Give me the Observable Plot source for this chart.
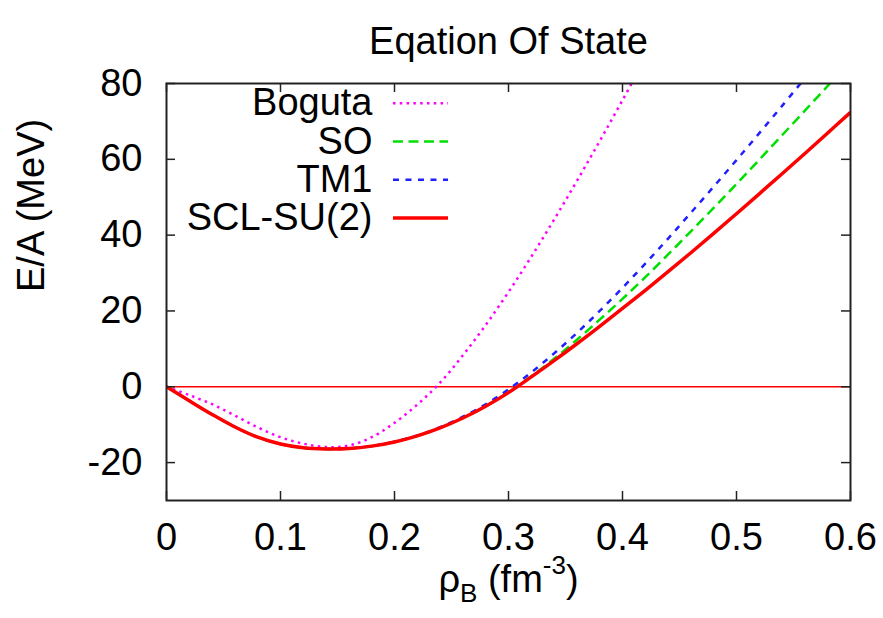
<!DOCTYPE html>
<html>
<head>
<meta charset="utf-8">
<script src="https://cdn.jsdelivr.net/npm/d3@7"></script>
<script src="https://cdn.jsdelivr.net/npm/@observablehq/plot@0.6"></script>
<style>
  html, body { margin: 0; padding: 0; background: #fff; }
</style>
</head>
<body>
<div id="chart"></div>
<script>
const title = "Eqation Of State";
const xLabel = "ρB (fm-3)";
const yLabel = "E/A (MeV)";
const seriesNames = ["Boguta", "SO", "TM1", "SCL-SU(2)"];
const seriesColors = ["#ff00ff", "#00e000", "#2020ff", "#ff0000"];
const xTicks = [0, 0.1, 0.2, 0.3, 0.4, 0.5, 0.6];
const xTickLabels = ["0", "0.1", "0.2", "0.3", "0.4", "0.5", "0.6"];
const yTicks = [-20, 0, 20, 40, 60, 80];
const yTickLabels = ["-20", "0", "20", "40", "60", "80"];

const rho = [0, 0.02, 0.04, 0.06, 0.08, 0.10, 0.12, 0.14, 0.16, 0.18, 0.20,
             0.22, 0.24, 0.26, 0.28, 0.30, 0.32, 0.34, 0.36, 0.38, 0.40,
             0.42, 0.44, 0.46, 0.48, 0.50, 0.52, 0.54, 0.56, 0.58, 0.60];

const boguta = [0, -2.2, -4.6, -7.6, -10.7, -13.3, -15.0, -15.9, -15.5, -13.3, -9.5,
                -4.7, 1.1, 8.3, 16.3, 25.0, 34.3, 44.1, 54.3, 64.8, 75.6,
                86.6];
const so = [0, -3.7, -7.3, -10.6, -13.3, -15.1, -16.1, -16.4, -16.28, -15.66, -14.55,
            -12.94, -10.84, -8.24, -5.14, -1.4, 2.8, 7.4, 12.4, 17.7, 23.2,
            28.9, 34.9, 41.0, 47.2, 53.5, 59.9, 66.35, 72.85, 79.35, 85.85];
const tm1 = [0, -3.7, -7.3, -10.6, -13.3, -15.1, -16.1, -16.4, -16.28, -15.66, -14.5,
             -12.85, -10.65, -7.9, -4.6, -0.7, 3.8, 8.8, 14.2, 20.0, 26.1,
             32.5, 39.1, 45.9, 52.8, 59.8, 66.9, 74.1, 81.4];
const sclsu2 = [0, -3.7, -7.3, -10.6, -13.3, -15.1, -16.1, -16.4, -16.28, -15.66, -14.55,
                -12.94, -10.84, -8.24, -5.14, -1.54, 2.6, 6.9, 11.35, 15.95, 20.65,
                25.45, 30.35, 35.35, 40.45, 45.65, 50.9, 56.2, 61.55, 66.95, 72.4];

const seriesValues = [boguta, so, tm1, sclsu2];
const seriesStyles = [
  {strokeWidth: 2.5, strokeDasharray: "2.5,4.3"},
  {strokeWidth: 2.5, strokeDasharray: "10,5.5"},
  {strokeWidth: 2.5, strokeDasharray: "6,6.5"},
  {strokeWidth: 3.5, strokeDasharray: null}
];

const font = "'Liberation Sans', Arial, Helvetica, sans-serif";
const fs = 38;

const W = 883, H = 618;
const mL = 166, mR = 33, mT = 83, mB = 118;
const fw = W - mL - mR, fh = H - mT - mB;
const tickLen = 9;

const lineMarks = seriesValues.map((vals, i) => {
  const data = vals.map((v, j) => ({x: rho[j], y: v}));
  return Plot.line(data, {
    x: "x", y: "y", stroke: seriesColors[i], curve: "catmull-rom",
    clip: true, strokeLinecap: "butt", ...seriesStyles[i]
  });
});

// legend (in data units, top-left)
const legX = 0.1807, legX1 = 0.1991, legX2 = 0.2474, legY0 = 74.8, legStep = 10.1;
const legend = seriesNames.map((n, i) => ({name: n, y: legY0 - i * legStep, i}));
const legendLines = legend.map((d, i) => Plot.ruleY([d], {
  y: "y", x1: () => legX1, x2: () => legX2, stroke: seriesColors[i], ...seriesStyles[i]
}));

const plot = Plot.plot({
  width: W, height: H,
  marginLeft: mL, marginRight: mR, marginTop: mT, marginBottom: mB,
  style: {fontFamily: font, fontSize: fs + "px", color: "#000", background: "#fff"},
  x: {domain: [0, 0.6]},
  y: {domain: [-30, 80]},
  marks: [
    Plot.ruleY([0], {stroke: "#ff0000", strokeWidth: 1.5}),
    ...lineMarks,
    // inward ticks
    Plot.ruleX(xTicks, {stroke: "#222", strokeWidth: 1.5, insetTop: fh - tickLen}),
    Plot.ruleX(xTicks, {stroke: "#222", strokeWidth: 1.5, insetBottom: fh - tickLen}),
    Plot.ruleY(yTicks, {stroke: "#222", strokeWidth: 1.5, insetRight: fw - tickLen}),
    Plot.ruleY(yTicks, {stroke: "#222", strokeWidth: 1.5, insetLeft: fw - tickLen}),
    Plot.frame({stroke: "#222", strokeWidth: 2}),
    Plot.axisX(xTicks, {tickSize: 0, tickPadding: 23, fontSize: fs, label: null,
      tickFormat: (d) => xTickLabels[xTicks.indexOf(d)]}),
    Plot.axisY(yTicks, {tickSize: 0, tickPadding: 24, fontSize: fs, label: null,
      tickFormat: (d) => yTickLabels[yTicks.indexOf(d)]}),
    // legend
    Plot.text(legend, {x: () => legX, y: "y", text: "name", textAnchor: "end",
      fontSize: fs, fill: "#000"}),
    ...legendLines,
    // title & axis labels
    Plot.text([title], {frameAnchor: "top", dy: -56, fontSize: fs, fill: "#000"}),
    Plot.text([yLabel], {frameAnchor: "left", rotate: -90, dx: -135, fontSize: fs, fill: "#000"}),
    Plot.text([xLabel], {frameAnchor: "bottom", dy: 91, fontSize: fs, fill: "#000"})
  ]
});

// sub/superscript for the x label
plot.querySelectorAll("text").forEach(t => {
  if (t.textContent === xLabel) {
    t.textContent = "";
    const ns = "http://www.w3.org/2000/svg";
    const parts = [
      {s: "ρ", size: fs, dy: 0},
      {s: "B", size: 26, dy: 10},
      {s: " (fm", size: fs, dy: -10},
      {s: "-3", size: 26, dy: -18},
      {s: ")", size: fs, dy: 18}
    ];
    parts.forEach(p => {
      const ts = document.createElementNS(ns, "tspan");
      ts.textContent = p.s;
      ts.setAttribute("font-size", p.size);
      if (p.dy) ts.setAttribute("dy", p.dy);
      t.appendChild(ts);
    });
  }
});

document.getElementById("chart").appendChild(plot);
</script>
</body>
</html>
